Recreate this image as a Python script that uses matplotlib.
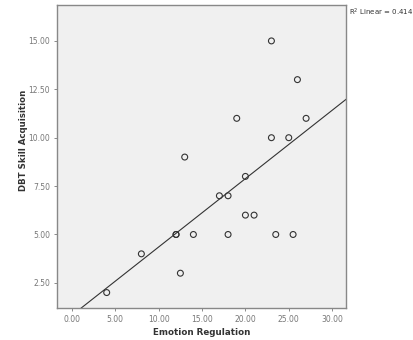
import numpy as np
import matplotlib
matplotlib.use('Agg')
import matplotlib.pyplot as plt

# Scatter data
emotion_regulation = [23, 26, 19, 27, 23, 25, 13, 20, 17, 18, 20, 21,
                      12, 12, 14, 18, 23.5, 25.5, 8, 12.5, 4]
dbt_skill = [15, 13, 11, 11, 10, 10, 9, 8, 7, 7, 6, 6,
             5, 5, 5, 5, 5, 5, 4, 3, 2]
x_ticks = [0, 5, 10, 15, 20, 25, 30]
y_ticks = [2.5, 5, 7.5, 10, 12.5, 15]
r2_text = 'R$^2$ Linear = 0.414'

x = np.array(emotion_regulation, dtype=float)
y = np.array(dbt_skill, dtype=float)
slope, intercept = np.polyfit(x, y, 1)

fig = plt.figure(figsize=(4.14, 3.4), dpi=100)
ax = fig.add_axes([0.1377, 0.094, 0.698, 0.891])
ax.set_facecolor('#f0f0f0')

xmin, xmax = -1.73, 31.6
ax.set_xlim(xmin, xmax)
ax.set_ylim(1.2, 16.85)

# Fit line across the full x range
xl = np.array([xmin, xmax])
ax.plot(xl, intercept + slope * xl, color='#333333', lw=0.8, zorder=2)

ax.scatter(x, y, s=18, facecolors='none', edgecolors='#333333', linewidths=0.8, zorder=3)

ax.set_xticks(x_ticks)
ax.set_xticklabels([f'{v:.2f}' for v in x_ticks])
ax.set_yticks(y_ticks)
ax.set_yticklabels([f'{v:.2f}' for v in y_ticks])
ax.tick_params(labelsize=5.5, labelcolor='#777777', color='#777777', length=2.5, width=0.6, pad=2.5)

for s in ax.spines.values():
    s.set_color('#888888')
    s.set_linewidth(1.0)

ax.set_xlabel('Emotion Regulation', fontsize=6.3, fontweight='bold', color='#333333', labelpad=3)
ax.set_ylabel('DBT Skill Acquisition', fontsize=6.2, fontweight='bold', color='#333333',
              family='Liberation Sans Narrow')
ax.yaxis.set_label_coords(-0.1, 0.555)

fig.text(0.842, 0.963, r2_text, fontsize=5, color='#333333', va='center', ha='left',
         family='Liberation Sans Narrow')

fig.savefig('out.png', dpi=100, facecolor='white')
